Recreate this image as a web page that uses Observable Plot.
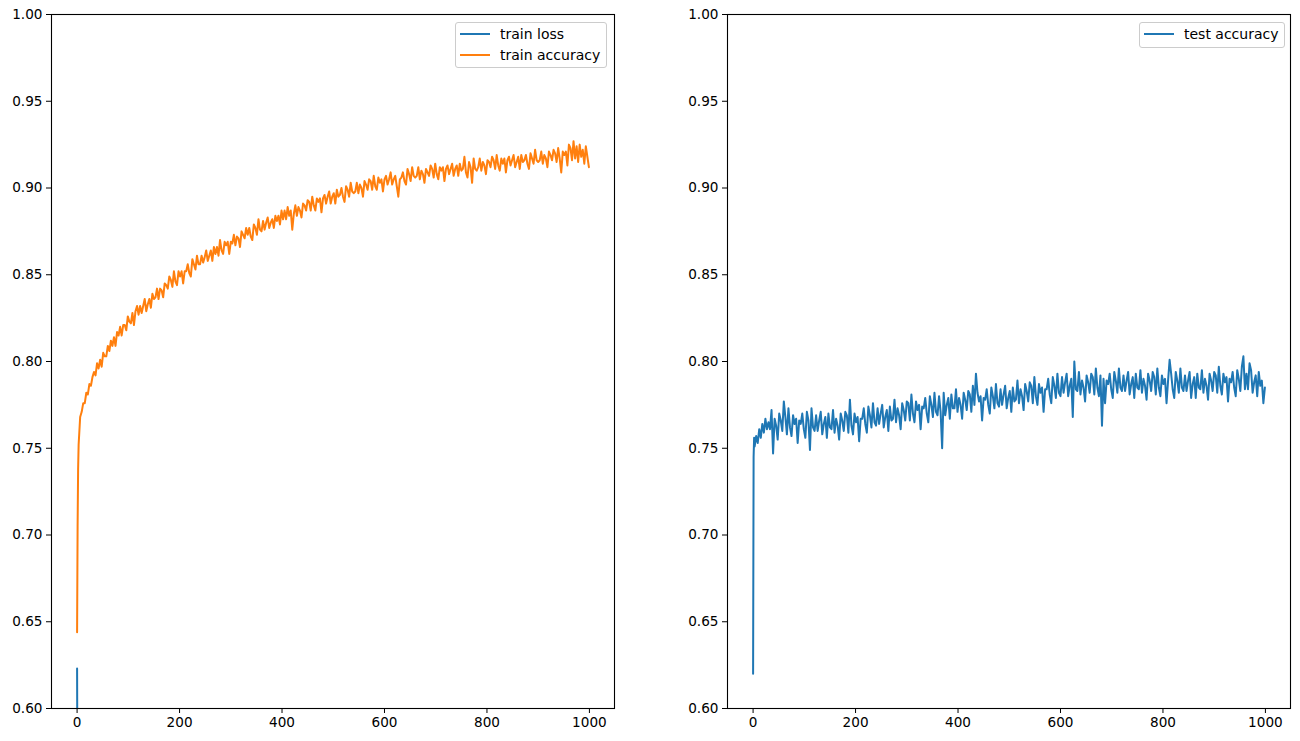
<!DOCTYPE html>
<html><head><meta charset="utf-8">
<script src="https://cdn.jsdelivr.net/npm/d3@7"></script>
<script src="https://cdn.jsdelivr.net/npm/@observablehq/plot@0.6"></script>
<style>
body{margin:0;background:#fff;font-family:"DejaVu Sans",sans-serif;}
#fig{position:relative;width:1300px;height:741px;display:flex;}
#fig svg{display:block;}
.legend{position:absolute;box-sizing:border-box;border:1px solid #cccccc;border-radius:3px;background:rgba(255,255,255,0.8);font-size:14px;color:#000;}
.item{position:absolute;left:0;height:18px;width:100%;}
.swatch{position:absolute;left:4px;top:8px;width:30px;height:2px;}
.lab{position:absolute;left:44px;top:0px;white-space:nowrap;line-height:18px;}
</style></head>
<body>
<div id="fig"></div>
<script>
// ---- data ----
const xTicks = [0, 200, 400, 600, 800, 1000];
const yTicks = [0.60, 0.65, 0.70, 0.75, 0.80, 0.85, 0.90, 0.95, 1.00];

// epochs sampled: 0, 1, 2, then every 3 epochs up to 999
const earlyEpochs = [0, 1, 2];
const sampledEpochs = d3.range(3, 1000, 3);
const epochs = [...earlyEpochs, ...sampledEpochs];

const trainLossEpochs = [0, 1, 2, 3, 4, 5, 10, 20, 50, 100, 200, 500, 999];
const trainLoss = [0.623, 0.520, 0.497, 0.485, 0.476, 0.470, 0.452, 0.430, 0.395, 0.360, 0.318, 0.262, 0.228];

const trainAccuracy = [
  0.644, 0.705, 0.738,
  0.752, 0.768, 0.771, 0.776, 0.776, 0.782, 0.781, 0.787, 0.786, 0.791,
  0.794, 0.792, 0.799, 0.796, 0.801, 0.797, 0.805, 0.803, 0.803, 0.809,
  0.806, 0.812, 0.809, 0.814, 0.809, 0.817, 0.815, 0.820, 0.815, 0.821,
  0.821, 0.818, 0.826, 0.823, 0.822, 0.828, 0.821, 0.829, 0.832, 0.827,
  0.832, 0.828, 0.832, 0.836, 0.829, 0.833, 0.836, 0.831, 0.839, 0.836,
  0.837, 0.842, 0.836, 0.842, 0.841, 0.837, 0.845, 0.844, 0.842, 0.849,
  0.847, 0.843, 0.852, 0.846, 0.844, 0.852, 0.849, 0.852, 0.845, 0.852,
  0.852, 0.856, 0.851, 0.849, 0.859, 0.856, 0.853, 0.861, 0.856, 0.856,
  0.861, 0.857, 0.860, 0.864, 0.858, 0.861, 0.864, 0.858, 0.866, 0.862,
  0.866, 0.861, 0.870, 0.864, 0.862, 0.869, 0.867, 0.869, 0.862, 0.869,
  0.868, 0.873, 0.867, 0.872, 0.871, 0.866, 0.875, 0.873, 0.871, 0.877,
  0.873, 0.877, 0.872, 0.870, 0.879, 0.877, 0.873, 0.882, 0.876, 0.875,
  0.881, 0.876, 0.880, 0.883, 0.877, 0.880, 0.882, 0.877, 0.884, 0.881,
  0.884, 0.879, 0.887, 0.882, 0.887, 0.882, 0.889, 0.884, 0.887, 0.876,
  0.885, 0.890, 0.884, 0.889, 0.887, 0.883, 0.891, 0.890, 0.887, 0.893,
  0.892, 0.887, 0.895, 0.890, 0.887, 0.894, 0.892, 0.894, 0.886, 0.894,
  0.896, 0.891, 0.895, 0.898, 0.891, 0.895, 0.897, 0.891, 0.899, 0.895,
  0.896, 0.900, 0.895, 0.892, 0.901, 0.899, 0.895, 0.903, 0.898, 0.897,
  0.898, 0.903, 0.897, 0.902, 0.900, 0.895, 0.904, 0.902, 0.899, 0.905,
  0.904, 0.899, 0.907, 0.901, 0.899, 0.906, 0.903, 0.905, 0.898, 0.905,
  0.907, 0.902, 0.905, 0.909, 0.902, 0.905, 0.907, 0.901, 0.895, 0.905,
  0.906, 0.909, 0.904, 0.902, 0.911, 0.908, 0.904, 0.912, 0.907, 0.906,
  0.907, 0.912, 0.905, 0.910, 0.908, 0.903, 0.911, 0.909, 0.907, 0.913,
  0.911, 0.906, 0.914, 0.908, 0.905, 0.912, 0.910, 0.912, 0.904, 0.911,
  0.913, 0.908, 0.911, 0.914, 0.907, 0.911, 0.913, 0.907, 0.914, 0.910,
  0.911, 0.918, 0.909, 0.906, 0.915, 0.912, 0.903, 0.917, 0.911, 0.910,
  0.912, 0.917, 0.910, 0.915, 0.913, 0.908, 0.916, 0.915, 0.912, 0.918,
  0.916, 0.911, 0.919, 0.913, 0.910, 0.917, 0.914, 0.917, 0.909, 0.916,
  0.918, 0.913, 0.916, 0.919, 0.912, 0.915, 0.918, 0.911, 0.919, 0.915,
  0.916, 0.919, 0.914, 0.911, 0.920, 0.917, 0.914, 0.922, 0.916, 0.915,
  0.916, 0.921, 0.914, 0.919, 0.917, 0.912, 0.921, 0.919, 0.916, 0.922,
  0.920, 0.915, 0.923, 0.917, 0.909, 0.921, 0.919, 0.921, 0.913, 0.925,
  0.923, 0.916, 0.927, 0.917, 0.924, 0.915, 0.925, 0.918, 0.922, 0.914,
  0.924, 0.918, 0.912
];

const testAccuracy = [
  0.620, 0.745, 0.756,
  0.751, 0.757, 0.753, 0.761, 0.756, 0.764, 0.759, 0.767, 0.761, 0.765,
  0.761, 0.772, 0.747, 0.767, 0.763, 0.755, 0.770, 0.766, 0.760, 0.777,
  0.768, 0.758, 0.773, 0.762, 0.757, 0.769, 0.764, 0.767, 0.753, 0.766,
  0.764, 0.770, 0.761, 0.756, 0.771, 0.766, 0.749, 0.773, 0.762, 0.760,
  0.769, 0.760, 0.766, 0.771, 0.758, 0.764, 0.768, 0.756, 0.770, 0.762,
  0.761, 0.772, 0.759, 0.767, 0.763, 0.755, 0.770, 0.766, 0.760, 0.771,
  0.769, 0.759, 0.778, 0.763, 0.758, 0.770, 0.765, 0.768, 0.754, 0.767,
  0.767, 0.773, 0.764, 0.759, 0.774, 0.769, 0.762, 0.776, 0.765, 0.763,
  0.773, 0.764, 0.770, 0.775, 0.762, 0.768, 0.772, 0.760, 0.774, 0.766,
  0.767, 0.778, 0.765, 0.773, 0.769, 0.761, 0.776, 0.772, 0.766, 0.777,
  0.776, 0.766, 0.781, 0.770, 0.765, 0.777, 0.772, 0.775, 0.761, 0.774,
  0.773, 0.779, 0.770, 0.765, 0.780, 0.775, 0.768, 0.782, 0.771, 0.769,
  0.780, 0.771, 0.750, 0.782, 0.769, 0.775, 0.779, 0.767, 0.781, 0.773,
  0.773, 0.784, 0.771, 0.779, 0.775, 0.767, 0.782, 0.778, 0.772, 0.783,
  0.781, 0.771, 0.786, 0.775, 0.793, 0.782, 0.777, 0.780, 0.766, 0.779,
  0.778, 0.784, 0.775, 0.770, 0.785, 0.780, 0.773, 0.787, 0.776, 0.774,
  0.784, 0.775, 0.781, 0.786, 0.773, 0.779, 0.783, 0.771, 0.785, 0.777,
  0.778, 0.789, 0.776, 0.784, 0.780, 0.772, 0.787, 0.783, 0.777, 0.788,
  0.786, 0.776, 0.791, 0.780, 0.775, 0.787, 0.782, 0.785, 0.771, 0.784,
  0.784, 0.790, 0.781, 0.776, 0.791, 0.786, 0.779, 0.793, 0.782, 0.780,
  0.791, 0.782, 0.788, 0.793, 0.780, 0.786, 0.790, 0.768, 0.800, 0.784,
  0.783, 0.794, 0.781, 0.789, 0.785, 0.777, 0.792, 0.788, 0.782, 0.793,
  0.791, 0.781, 0.796, 0.785, 0.780, 0.792, 0.763, 0.790, 0.776, 0.789,
  0.787, 0.793, 0.784, 0.779, 0.794, 0.789, 0.782, 0.796, 0.785, 0.783,
  0.792, 0.783, 0.789, 0.794, 0.781, 0.787, 0.791, 0.779, 0.793, 0.785,
  0.784, 0.795, 0.782, 0.790, 0.786, 0.778, 0.793, 0.789, 0.783, 0.794,
  0.791, 0.781, 0.796, 0.785, 0.780, 0.792, 0.787, 0.790, 0.776, 0.789,
  0.801, 0.793, 0.784, 0.779, 0.794, 0.789, 0.782, 0.796, 0.785, 0.783,
  0.792, 0.783, 0.789, 0.794, 0.779, 0.787, 0.791, 0.779, 0.793, 0.785,
  0.784, 0.795, 0.782, 0.790, 0.786, 0.778, 0.793, 0.789, 0.783, 0.794,
  0.792, 0.782, 0.797, 0.786, 0.781, 0.793, 0.788, 0.791, 0.777, 0.790,
  0.788, 0.794, 0.785, 0.780, 0.795, 0.790, 0.783, 0.797, 0.803, 0.784,
  0.793, 0.784, 0.799, 0.795, 0.782, 0.788, 0.792, 0.780, 0.794, 0.786,
  0.789, 0.776, 0.785
];

const BLUE = "#1f77b4", ORANGE = "#ff7f0e";

// ---- build tables ----
const lossData = trainLossEpochs.map((e, i) => ({epoch: e, value: trainLoss[i]}));
const trainAccData = epochs.map((e, i) => ({epoch: e, value: trainAccuracy[i]}));
const testAccData = epochs.map((e, i) => ({epoch: e, value: testAccuracy[i]}));

function panel(series, marginLeft, marginRight) {
  return Plot.plot({
    width: 650, height: 741,
    marginLeft, marginRight, marginTop: 14, marginBottom: 33,
    x: {domain: [-49.95, 1048.95]},
    y: {domain: [0.6, 1.0]},
    style: {fontFamily: "DejaVu Sans", fontSize: "13.6px", background: "white", color: "black", overflow: "visible"},
    marks: [
      Plot.axisX({ticks: xTicks, tickSize: 5, tickPadding: 4, label: null, tickFormat: d => String(d)}),
      Plot.axisY({ticks: yTicks, tickSize: 5, tickPadding: 4, label: null, tickFormat: d3.format(".2f")}),
      ...series.map(s => Plot.line(s.data, {x: "epoch", y: "value", stroke: s.color, strokeWidth: 2, clip: true})),
      Plot.frame({stroke: "black", strokeWidth: 1.1})
    ]
  });
}

const fig = document.getElementById("fig");
const leftSeries = [
  {name: "train loss", data: lossData, color: BLUE},
  {name: "train accuracy", data: trainAccData, color: ORANGE}
];
const rightSeries = [
  {name: "test accuracy", data: testAccData, color: BLUE}
];
fig.appendChild(panel(leftSeries, 51, 36));
fig.appendChild(panel(rightSeries, 77, 10));

function legend(series, left, top, width) {
  const box = document.createElement("div");
  box.className = "legend";
  box.style.left = left + "px";
  box.style.top = top + "px";
  box.style.width = width + "px";
  box.style.height = (5 + series.length * 20.6) + "px";
  series.forEach((s, i) => {
    const item = document.createElement("div");
    item.className = "item";
    item.style.top = (2 + i * 20.6) + "px";
    const sw = document.createElement("span");
    sw.className = "swatch";
    sw.style.background = s.color;
    const lab = document.createElement("span");
    lab.className = "lab";
    lab.textContent = s.name;
    item.appendChild(sw);
    item.appendChild(lab);
    box.appendChild(item);
  });
  fig.appendChild(box);
}
legend(leftSeries, 455, 22, 152);
legend(rightSeries, 1139, 22, 146);
</script>
</body></html>
